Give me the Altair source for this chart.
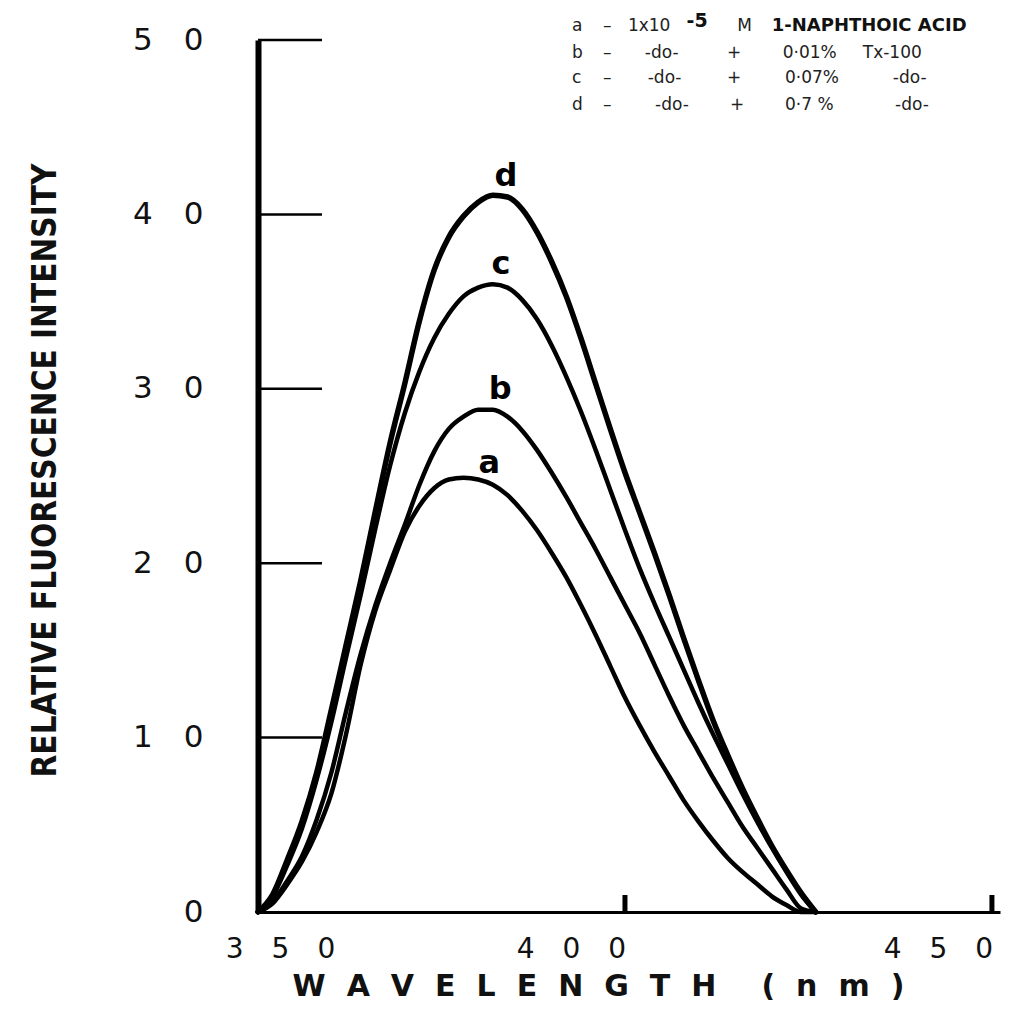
import altair as alt
import pandas as pd

# ---- data ----
wavelength = [350, 352, 354, 356, 358, 360, 362, 364, 366, 368, 370, 372, 374,
              376, 378, 380, 382, 384, 386, 388, 390, 392, 394, 396, 398, 400,
              402, 404, 406, 408, 410, 412, 414, 416, 418, 420, 422, 424, 426]

curve_a = [0, 0.5, 1.6, 2.9, 4.6, 6.8, 10.2, 14.2, 17.3, 19.6, 21.8, 23.3, 24.3,
           24.8, 24.9, 24.8, 24.5, 23.9, 23.0, 21.9, 20.6, 19.2, 17.6, 15.9, 14.1, 12.3,
           10.7, 9.2, 7.8, 6.4, 5.2, 4.1, 3.1, 2.3, 1.6, 0.9, 0.4, 0, 0]
curve_b = [0, 0.6, 1.8, 3.2, 5.3, 8.0, 11.5, 14.8, 17.6, 20.0, 22.2, 24.5, 26.4,
           27.7, 28.4, 28.8, 28.8, 28.4, 27.6, 26.5, 25.2, 23.8, 22.3, 20.8, 19.2, 17.6,
           16.0, 14.2, 12.4, 10.7, 9.2, 7.7, 6.3, 4.9, 3.7, 2.5, 1.3, 0.2, 0]
curve_c = [0, 0.9, 2.7, 4.8, 7.6, 10.9, 14.6, 18.2, 22.0, 25.6, 28.6, 31.0, 32.9,
           34.3, 35.3, 35.8, 36.0, 35.8, 35.1, 34.0, 32.5, 30.7, 28.7, 26.5, 24.2, 21.9,
           19.7, 17.7, 15.8, 13.9, 12.0, 10.2, 8.5, 6.8, 5.2, 3.7, 2.3, 1.0, 0]
curve_d = [0, 1.0, 3.0, 5.2, 8.0, 11.6, 15.3, 19.0, 23.0, 26.9, 30.3, 33.9, 36.8,
           38.7, 39.9, 40.7, 41.1, 41.0, 40.3, 39.0, 37.3, 35.3, 32.9, 30.3, 27.7, 25.2,
           22.9, 20.6, 18.2, 15.7, 13.3, 11.0, 9.0, 7.1, 5.4, 3.8, 2.4, 1.1, 0]

series_names = ["a", "b", "c", "d"]
series_values = [curve_a, curve_b, curve_c, curve_d]

# curve letters placed near each peak (wavelength, intensity)
peak_label_text = ["a", "b", "c", "d"]
peak_label_wl = [381.5, 383.0, 383.1, 383.8]
peak_label_val = [25.2, 29.4, 36.6, 41.6]

x_ticks = [350, 400, 450]
y_ticks = [0, 10, 20, 30, 40, 50]
inner_y_ticks = [10, 20, 30, 40, 50]
inner_x_ticks = [400, 450]

# legend block text (anchored in data space)
legend_text = ["a", "–", "1x10", "M",
               "b", "–", "-do-", "+", "0·01%", "Tx-100",
               "c", "–", "-do-", "+", "0·07%", "-do-",
               "d", "–", "-do-", "+", "0·7 %", "-do-"]
legend_wl = [392.8, 397.0, 400.4, 415.3,
             392.8, 397.0, 402.7, 413.9, 421.5, 432.4,
             392.8, 397.0, 403.1, 413.9, 421.8, 436.5,
             392.8, 397.0, 404.1, 414.3, 421.8, 436.8]
legend_val = [50.8, 50.8, 50.8, 50.8,
              49.25, 49.25, 49.25, 49.25, 49.25, 49.25,
              47.8, 47.8, 47.8, 47.8, 47.8, 47.8,
              46.3, 46.3, 46.3, 46.3, 46.3, 46.3]
legend_bold_text = ["1-NAPHTHOIC ACID"]
legend_bold_wl = [420.0]
legend_bold_val = [50.8]
legend_sup_text = ["-5"]
legend_sup_wl = [408.4]
legend_sup_val = [51.1]

# ---- tables ----
rows = []
for name, vals in zip(series_names, series_values):
    for w, v in zip(wavelength, vals):
        rows.append({"wavelength": w, "intensity": v, "series": name})
curves = pd.DataFrame(rows)

peak_df = pd.DataFrame({"wavelength": peak_label_wl, "intensity": peak_label_val, "label": peak_label_text})
leg_df = pd.DataFrame({"wavelength": legend_wl, "intensity": legend_val, "label": legend_text})
legb_df = pd.DataFrame({"wavelength": legend_bold_wl, "intensity": legend_bold_val, "label": legend_bold_text})
legs_df = pd.DataFrame({"wavelength": legend_sup_wl, "intensity": legend_sup_val, "label": legend_sup_text})
yt_df = pd.DataFrame({"intensity": inner_y_ticks})
xt_df = pd.DataFrame({"wavelength": inner_x_ticks})

W, H = 742, 872
SPACE = "\u2003"
GAP = "\u2002\u2009"
x_title = GAP.join(list("WAVELENGTH")) + "\u2002\u2002\u2002" + GAP.join(list("(nm)"))

x_enc = alt.X(
    "wavelength:Q",
    scale=alt.Scale(domain=[350, 451.1], nice=False, zero=False),
    axis=alt.Axis(
        values=x_ticks, ticks=False, grid=False,
        domainColor="#000", domainWidth=3,
        labelFont="DejaVu Sans", labelFontSize=28, labelColor="#111",
        labelExpr="join(split(datum.label, ''), '" + SPACE + "')",
        labelBaseline="middle", labelPadding=37, labelFlush=False,
        labelOverlap=False, labelBound=False,
        labelOffset={"condition": {"test": "datum.value <= 350", "value": 22}, "value": -54},
        title=x_title, titleFont="DejaVu Sans", titleFontSize=30,
        titleFontWeight="bold", titleColor="#111",
        titleX=340, titleY=83, titleAlign="center", titleBaseline="alphabetic",
    ),
)
y_enc = alt.Y(
    "intensity:Q",
    scale=alt.Scale(domain=[0, 50], nice=False),
    axis=alt.Axis(
        values=y_ticks, ticks=False, grid=False,
        domainColor="#000", domainWidth=6,
        labelFont="DejaVu Sans", labelFontSize=31, labelColor="#111",
        labelExpr="join(split(datum.label, ''), '" + SPACE + "')",
        labelAlign="right", labelBaseline="middle", labelPadding=55,
        labelOverlap=False, labelBound=False,
        title="RELATIVE FLUORESCENCE INTENSITY",
        titleFont="DejaVu Sans Condensed, DejaVu Sans, sans-serif",
        titleFontSize=33, titleFontWeight="bold", titleColor="#111",
        titleAngle=270, titleX=-213, titleY=430, titleAlign="center", titleBaseline="middle",
    ),
)

lines = alt.Chart(curves).mark_line(
    color="#000", interpolate="monotone", strokeCap="round", strokeJoin="round"
).encode(x=x_enc, y=y_enc, detail="series:N",
         strokeWidth=alt.condition("datum.series == 'd'", alt.value(5.5), alt.value(4.5)))

ytick_layer = alt.Chart(yt_df).mark_rule(color="#000", strokeWidth=2.5).encode(
    y=y_enc, x=alt.value(0), x2=alt.value(64))
xtick_layer = alt.Chart(xt_df).mark_rule(color="#000", strokeWidth=5).encode(
    x=x_enc, y=alt.value(H), y2=alt.value(H - 17))

peak_text = alt.Chart(peak_df).mark_text(
    font="DejaVu Sans", fontSize=32, fontWeight="bold", color="#000",
    align="center", baseline="alphabetic").encode(x=x_enc, y=y_enc, text="label:N")

leg_text = alt.Chart(leg_df).mark_text(
    font="DejaVu Sans", fontSize=17, color="#222", align="left", baseline="middle"
).encode(x=x_enc, y=y_enc, text="label:N")
legb_text = alt.Chart(legb_df).mark_text(
    font="DejaVu Sans", fontSize=18, fontWeight="bold", color="#111", align="left", baseline="middle"
).encode(x=x_enc, y=y_enc, text="label:N")
legs_text = alt.Chart(legs_df).mark_text(
    font="DejaVu Sans", fontSize=19, fontWeight="bold", color="#111", align="left", baseline="middle"
).encode(x=x_enc, y=y_enc, text="label:N")

chart = alt.layer(
    lines, ytick_layer, xtick_layer, peak_text, leg_text, legb_text, legs_text
).properties(
    width=W, height=H,
    autosize=alt.AutoSizeParams(type="none"),
    padding={"left": 250, "top": 32, "right": 10, "bottom": 91},
    background="white",
).configure_view(stroke=None)

chart.save("out.html", embed_options={"renderer": "svg", "actions": False})
